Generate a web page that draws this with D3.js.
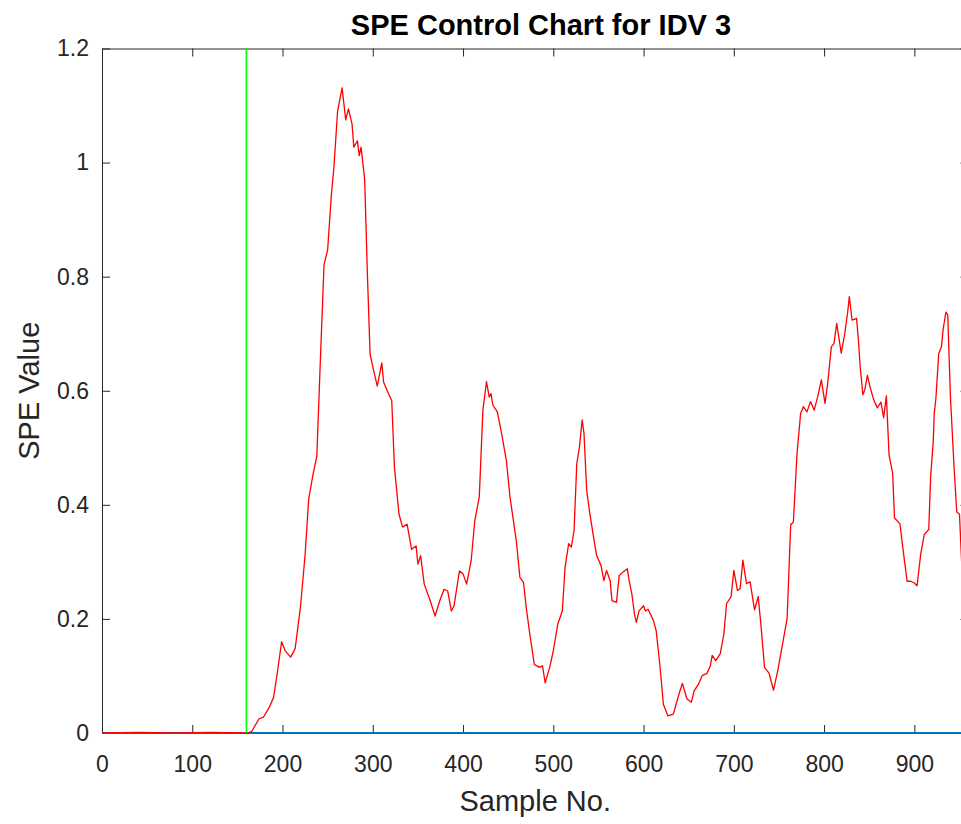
<!DOCTYPE html>
<html>
<head>
<meta charset="utf-8">
<script src="https://cdn.jsdelivr.net/npm/d3@7"></script>
<style>
  body { margin: 0; background: #fff; }
  svg { display: block; font-family: "Liberation Sans", Arial, Helvetica, sans-serif; }
</style>
</head>
<body>
<div id="chart"></div>
<script>
// SPE statistic (sample no. / value)
const sampleNo = [0, 40, 80, 120, 160, 161, 166, 174, 179, 185, 190, 194, 199, 203, 209, 214, 220, 225, 229, 234, 238,
  242, 246, 250, 254, 257, 261, 266, 270, 273, 277, 279, 283, 285, 287, 291, 294, 297, 301, 305, 310, 312, 318, 321,
  324, 329, 333, 338, 343, 348, 350, 353, 357, 363, 369, 374, 379, 383, 387, 390, 396, 400, 404, 409, 413, 418, 422,
  426, 429, 431, 433, 438, 443, 448, 452, 459, 463, 467, 470, 474, 479, 485, 488, 491, 496, 500, 505, 510, 513, 517,
  520, 523, 526, 529, 532, 534, 537, 540, 544, 548, 553, 556, 559, 563, 565, 570, 573, 577, 582, 584, 587, 590, 592,
  595, 600, 602, 605, 611, 614, 618, 622, 627, 633, 639, 643, 648, 653, 656, 661, 665, 670, 674, 676, 680, 685, 689,
  692, 697, 700, 704, 707, 710, 714, 718, 723, 727, 730, 734, 739, 744, 749, 755, 759, 763, 766, 770, 774, 777, 781,
  785, 789, 793, 797, 801, 804, 808, 811, 814, 819, 823, 826, 828, 831, 836, 838, 840, 843, 845, 848, 851, 855, 859,
  863, 866, 869, 872, 876, 878, 884, 888, 892, 896, 900, 903, 907, 911, 916, 918, 921, 922, 924, 927, 930, 932, 935,
  937, 940, 944, 947, 950, 954, 960];
const speValue = [0, 0.001, 0, 0.001, 0, 0.000, 0.003, 0.025, 0.028, 0.044, 0.062, 0.103, 0.160, 0.144, 0.133, 0.148,
  0.223, 0.312, 0.410, 0.455, 0.485, 0.657, 0.821, 0.847, 0.941, 0.993, 1.090, 1.131, 1.075, 1.094, 1.068, 1.027,
  1.038, 1.012, 1.027, 0.971, 0.806, 0.664, 0.635, 0.608, 0.649, 0.615, 0.593, 0.583, 0.466, 0.384, 0.361, 0.366,
  0.322, 0.328, 0.296, 0.311, 0.261, 0.235, 0.205, 0.231, 0.252, 0.249, 0.214, 0.223, 0.284, 0.279, 0.261, 0.302,
  0.372, 0.414, 0.566, 0.616, 0.589, 0.595, 0.575, 0.563, 0.522, 0.478, 0.414, 0.337, 0.273, 0.264, 0.220, 0.173,
  0.120, 0.115, 0.118, 0.088, 0.115, 0.144, 0.191, 0.214, 0.290, 0.332, 0.326, 0.355, 0.472, 0.502, 0.549, 0.525,
  0.425, 0.390, 0.349, 0.311, 0.293, 0.267, 0.285, 0.267, 0.232, 0.229, 0.276, 0.282, 0.288, 0.267, 0.244, 0.208,
  0.194, 0.214, 0.223, 0.214, 0.217, 0.197, 0.179, 0.120, 0.050, 0.030, 0.033, 0.067, 0.087, 0.060, 0.054, 0.074,
  0.086, 0.101, 0.104, 0.118, 0.136, 0.127, 0.139, 0.174, 0.227, 0.239, 0.285, 0.250, 0.253, 0.303, 0.262, 0.265,
  0.216, 0.239, 0.190, 0.115, 0.105, 0.075, 0.112, 0.165, 0.200, 0.365, 0.370, 0.490, 0.560, 0.572, 0.563, 0.581,
  0.566, 0.590, 0.619, 0.578, 0.613, 0.677, 0.683, 0.718, 0.666, 0.701, 0.736, 0.765, 0.724, 0.727, 0.689, 0.642,
  0.593, 0.601, 0.627, 0.606, 0.584, 0.570, 0.580, 0.553, 0.591, 0.487, 0.455, 0.377, 0.367, 0.315, 0.266, 0.266,
  0.263, 0.258, 0.313, 0.348, 0.357, 0.448, 0.513, 0.559, 0.589, 0.665, 0.677, 0.709, 0.738, 0.733, 0.589, 0.466,
  0.387, 0.384, 0.243, 0.190];

const faultStart = 160;        // green marker
const controlLimit = [0, 0];   // blue limit line (start / end value)
const xTicks = [0, 100, 200, 300, 400, 500, 600, 700, 800, 900];
const yTicks = [0, 0.2, 0.4, 0.6, 0.8, 1, 1.2];

const W = 961, H = 824;
const margin = {left: 102, top: 48.5, right: -7.5, bottom: 91};
const width = W - margin.left - margin.right, height = H - margin.top - margin.bottom;
const axisColor = "#262626";

const svg = d3.select("#chart").append("svg")
    .attr("width", W).attr("height", H);
const g = svg.append("g").attr("transform", "translate(" + margin.left + "," + margin.top + ")");

const x = d3.scaleLinear().domain([0, 960]).range([0, width]);
const y = d3.scaleLinear().domain([0, 1.2]).range([height, 0]);

const line = d3.line().x(d => x(d[0])).y(d => y(d[1]));
const pts = sampleNo.map((s, i) => [s, speValue[i]]);

// axes (box with inward ticks)
function styleAxis(sel, fs) {
  sel.selectAll("path, line").attr("stroke", axisColor).attr("stroke-width", 1);
  sel.selectAll("text").attr("fill", axisColor).attr("font-size", fs + "px").attr("font-family", null);
}
g.append("g").attr("transform", "translate(0," + height + ")")
    .call(d3.axisBottom(x).tickValues(xTicks).tickSizeInner(-8).tickSizeOuter(0).tickPadding(23))
    .call(s => styleAxis(s, 23));
g.append("g")
    .call(d3.axisTop(x).tickValues(xTicks).tickSizeInner(-8).tickSizeOuter(0).tickFormat(""))
    .call(s => styleAxis(s, 23));
g.append("g")
    .call(d3.axisLeft(y).tickValues(yTicks).tickSizeInner(-8).tickSizeOuter(0).tickPadding(13).tickFormat(d3.format("")))
    .call(s => styleAxis(s, 23));
g.append("g").attr("transform", "translate(" + width + ",0)")
    .call(d3.axisRight(y).tickValues(yTicks).tickSizeInner(-8).tickSizeOuter(0).tickFormat(""))
    .call(s => styleAxis(s, 23));

// blue limit, then the SPE trace, then the fault marker
g.append("line")
    .attr("x1", x(0)).attr("x2", x(960))
    .attr("y1", y(controlLimit[0])).attr("y2", y(controlLimit[1]))
    .attr("stroke", "#0072BD").attr("stroke-width", 2);

g.append("path")
    .datum(pts)
    .attr("fill", "none")
    .attr("stroke", "#ff0000")
    .attr("stroke-width", 1.3)
    .attr("stroke-linejoin", "round")
    .attr("d", line);

g.append("line")
    .attr("x1", x(faultStart)).attr("x2", x(faultStart))
    .attr("y1", y(0)).attr("y2", y(1.2))
    .attr("stroke", "#00ff00").attr("stroke-width", 1.6);

// labels
svg.append("text")
    .attr("x", 541).attr("y", 35)
    .attr("text-anchor", "middle")
    .attr("font-size", "29px").attr("font-weight", "bold").attr("fill", "#000")
    .text("SPE Control Chart for IDV 3");
svg.append("text")
    .attr("x", margin.left + x(480)).attr("y", 811)
    .attr("text-anchor", "middle")
    .attr("font-size", "29px").attr("fill", axisColor)
    .text("Sample No.");
svg.append("text")
    .attr("transform", "translate(39," + (margin.top + y(0.6)) + ") rotate(-90)")
    .attr("text-anchor", "middle")
    .attr("font-size", "29px").attr("fill", axisColor)
    .text("SPE Value");
</script>
</body>
</html>
